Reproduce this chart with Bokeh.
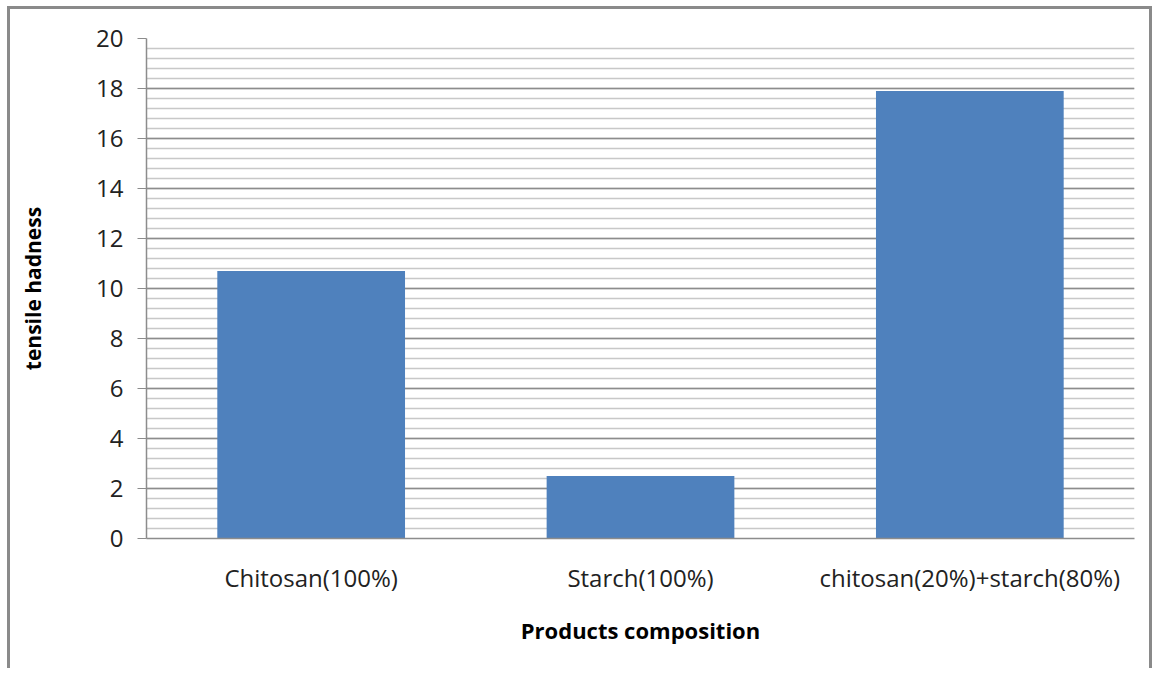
from bokeh.plotting import figure
from bokeh.models import FactorRange, Range1d, FixedTicker, ColumnDataSource
from bokeh.embed import file_html
from bokeh.resources import INLINE

categories = ["Chitosan(100%)", "Starch(100%)", "chitosan(20%)+starch(80%)"]
values = [10.7, 2.5, 17.9]
y_ticks = [0, 2, 4, 6, 8, 10, 12, 14, 16, 18, 20]

FONT = "Open Sans"

src = ColumnDataSource(data=dict(cat=categories, val=values))

p = figure(
    x_range=FactorRange(*categories, range_padding=0),
    y_range=Range1d(0, 20),
    width=1145, height=662,
    output_backend="svg", toolbar_location=None,
    min_border_left=136, min_border_right=21,
    min_border_top=29, min_border_bottom=133,
)
p.styles = {"border-left": "3px solid #8a8a8a", "border-top": "3px solid #8a8a8a",
            "border-right": "3px solid #8a8a8a",
            "margin-left": "7px", "margin-top": "6px"}

p.vbar(x="cat", top="val", width=0.57, source=src, fill_color="#4f81bd", line_color=None)

p.outline_line_color = None
p.xgrid.grid_line_color = None
p.ygrid.ticker = FixedTicker(ticks=y_ticks, minor_ticks=[i * 0.4 for i in range(51)])
p.ygrid.grid_line_color = "#8c8c8c"
p.ygrid.grid_line_width = 1.5
p.ygrid.minor_grid_line_color = "#c8c8c8"
p.ygrid.minor_grid_line_width = 1.5
p.ygrid.level = "underlay"

p.yaxis.ticker = FixedTicker(ticks=y_ticks)
p.yaxis.minor_tick_line_color = None
p.yaxis.major_tick_in = 0
p.yaxis.major_tick_out = 9
p.yaxis.major_tick_line_color = "#8c8c8c"
p.yaxis.axis_line_color = "#8c8c8c"
p.yaxis.axis_line_width = 1.5
p.yaxis.major_label_text_font = FONT
p.yaxis.major_label_text_font_size = "24px"
p.yaxis.major_label_text_color = "#222222"
p.yaxis.major_label_standoff = 14
p.yaxis.axis_label = "tensile hadness"
p.yaxis.axis_label_text_font = FONT
p.yaxis.axis_label_text_font_style = "bold"
p.yaxis.axis_label_text_font_size = "21px"
p.yaxis.axis_label_text_color = "#000000"
p.yaxis.axis_label_standoff = 46

p.xaxis.axis_line_color = "#8c8c8c"
p.xaxis.axis_line_width = 1.5
p.xaxis.major_tick_line_color = None
p.xaxis.minor_tick_line_color = None
p.xaxis.major_label_text_font = FONT
p.xaxis.major_label_text_font_size = "24px"
p.xaxis.major_label_text_color = "#222222"
p.xaxis.major_label_standoff = 16
p.xaxis.axis_label = "Products composition"
p.xaxis.axis_label_text_font = FONT
p.xaxis.axis_label_text_font_style = "bold"
p.xaxis.axis_label_text_font_size = "22px"
p.xaxis.axis_label_text_color = "#000000"
p.xaxis.axis_label_standoff = 18

open("out.html", "w").write(file_html(p, INLINE))
